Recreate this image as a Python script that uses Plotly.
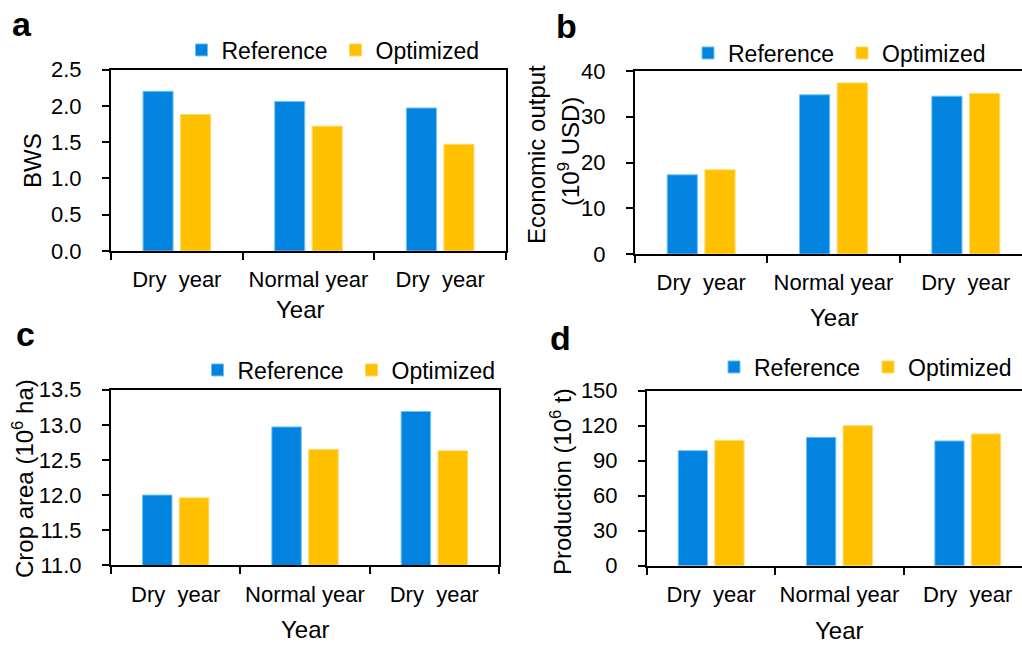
import plotly.graph_objects as go

W, H = 1022, 646

# ---- data ----
tick_labels = ["Dry\u00a0 year", "Normal year", "Dry\u00a0 year\u200b"]
series_names = ["Reference", "Optimized"]
bws_ref = [2.20, 2.06, 1.97]
bws_opt = [1.88, 1.72, 1.47]
econ_ref = [17.3, 34.8, 34.5]
econ_opt = [18.4, 37.4, 35.1]
area_ref = [12.00, 12.97, 13.19]
area_opt = [11.96, 12.65, 12.63]
prod_ref = [98.6, 110.0, 106.9]
prod_opt = [107.4, 120.0, 112.9]

BLUE = "#0283E0"
BLUE_EDGE = "#6CC3F5"
GOLD = "#FFC000"
GOLD_EDGE = "#FFD966"
FONT = "Arial, Liberation Sans, sans-serif"

def px(x):
    return x / W

def py(y):
    return 1 - y / H

fig = go.Figure()

panels = [
    (bws_ref, bws_opt, "x", "y", "legend"),
    (econ_ref, econ_opt, "x2", "y2", "legend2"),
    (area_ref, area_opt, "x3", "y3", "legend3"),
    (prod_ref, prod_opt, "x4", "y4", "legend4"),
]
for ref, opt, xa, ya, lg in panels:
    fig.add_trace(go.Bar(x=tick_labels, y=ref, name=series_names[0], marker_color=BLUE,
                         marker_line=dict(color=BLUE_EDGE, width=1),
                         xaxis=xa, yaxis=ya, legend=lg))
    fig.add_trace(go.Bar(x=tick_labels, y=opt, name=series_names[1], marker_color=GOLD,
                         marker_line=dict(color=GOLD_EDGE, width=1),
                         xaxis=xa, yaxis=ya, legend=lg))

axis_common = dict(showline=True, linecolor="black", linewidth=2, ticks="outside",
                   ticklen=7, tickwidth=2, tickcolor="black", showgrid=False, zeroline=False,
                   tickfont=dict(size=22, color="black", family=FONT))

xcommon = dict(axis_common, type="category", tickson="boundaries", ticklabelstandoff=8,
               tickangle=0)
ycommon = dict(axis_common, ticklabelstandoff=16)

fig.update_layout(
    xaxis=dict(xcommon, domain=[px(111), px(506)], anchor="y", mirror=True, range=[-0.5, 2.5]),
    yaxis=dict(ycommon, domain=[py(251), py(69.5)], anchor="x", mirror=True,
               range=[0, 2.5], dtick=0.5, tickformat=".1f"),
    xaxis2=dict(xcommon, domain=[px(635), 1.0], anchor="y2", mirror=True, range=[-0.5, 2.425]),
    yaxis2=dict(ycommon, domain=[py(254), py(71)], anchor="x2", range=[0, 40], dtick=10),
    xaxis3=dict(xcommon, domain=[px(111), px(499)], anchor="y3", mirror=True, range=[-0.5, 2.5]),
    yaxis3=dict(ycommon, domain=[py(565.3), py(389.7)], anchor="x3", mirror=True,
                range=[11, 13.5], dtick=0.5, tickformat=".1f"),
    xaxis4=dict(xcommon, domain=[px(647), 1.0], anchor="y4", mirror=True, range=[-0.5, 2.423]),
    yaxis4=dict(ycommon, domain=[py(565.7), py(390.7)], anchor="x4", range=[0, 150], dtick=30),
)

leg_common = dict(orientation="h", xanchor="left", yanchor="middle", entrywidth=109,
                  font=dict(size=23, color="black", family=FONT),
                  bgcolor="rgba(0,0,0,0)", borderwidth=0, traceorder="normal")
fig.update_layout(
    legend=dict(leg_common, x=px(181.5), y=py(50)),
    legend2=dict(leg_common, x=px(688), y=py(53)),
    legend3=dict(leg_common, x=px(197.5), y=py(370)),
    legend4=dict(leg_common, x=px(714), y=py(367)),
)

annotations = []

def ann(text, x, y, size=24, angle=0, bold=False, yanchor="middle"):
    annotations.append(dict(text=("<b>%s</b>" % text) if bold else text, x=px(x), y=py(y),
                            xref="paper", yref="paper", showarrow=False, textangle=angle,
                            xanchor="center", yanchor=yanchor,
                            font=dict(size=size, color="black", family=FONT)))

# panel letters
ann("a", 22, 24, size=34, bold=True)
ann("b", 566, 26, size=34, bold=True)
ann("c", 25, 334, size=34, bold=True)
ann("d", 560, 338, size=34, bold=True)

# x-axis titles
ann("Year", 300, 309)
ann("Year", 834, 317)
ann("Year", 305, 629)
ann("Year", 839.5, 646, yanchor="bottom")

# y-axis titles
ann("BWS", 32, 161, angle=-90)
ann("Economic output", 536, 155, angle=-90)
ann("(10<sup>9</sup> USD)", 569, 152, angle=-90)
ann("Crop area (10<sup>6</sup> ha)", 23, 479, angle=-90)
ann("Production (10<sup>6</sup> t)", 561, 482, angle=-90)

fig.update_layout(
    width=W, height=H, margin=dict(l=0, r=0, t=0, b=0, autoexpand=False),
    paper_bgcolor="white", plot_bgcolor="white",
    barmode="group", bargap=0.43, bargroupgap=0.2,
    font=dict(family=FONT, color="black"),
    annotations=annotations,
)

fig.write_html("out.html")
